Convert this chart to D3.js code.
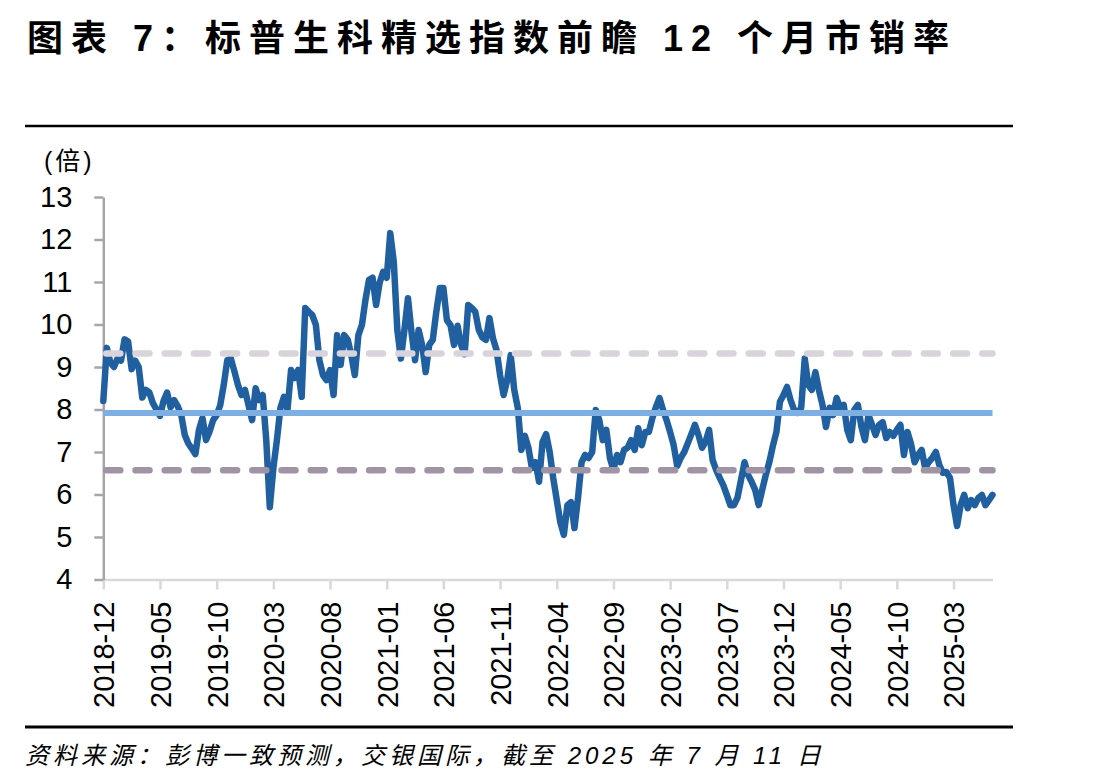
<!DOCTYPE html>
<html>
<head>
<meta charset="utf-8">
<script src="https://cdn.jsdelivr.net/npm/d3@7"></script>
<style>
  html, body { margin: 0; padding: 0; background: #ffffff; }
  svg { display: block; }
</style>
</head>
<body>
<svg id="chart" width="1097" height="780"></svg>
<script>
// ---- data ----
const titleText = "图表 7：标普生科精选指数前瞻 12 个月市销率";
const unitLabel = "(倍)";
const sourceText = "资料来源：彭博一致预测，交银国际，截至 2025 年 7 月 11 日";

const tickLabels = ["2018-12","2019-05","2019-10","2020-03","2020-08","2021-01","2021-06","2021-11",
                    "2022-04","2022-09","2023-02","2023-07","2023-12","2024-05","2024-10","2025-03"];
const pointsPerTick = 16;
const yTicks = [4,5,6,7,8,9,10,11,12,13];

// forward 12M P/S (x), sampled evenly along the category axis
const psRatio = [
  8.2, 9.45, 9.1, 9.0, 9.2, 9.15, 9.65, 9.6, 8.95, 9.15, 9.0, 8.28, 8.46, 8.4, 8.15, 8.0,
  7.85, 8.2, 8.4, 8.05, 8.22, 8.08, 7.87, 7.4, 7.2, 7.08, 6.95, 7.52, 7.8, 7.28, 7.48, 7.75,
  7.87, 8.1, 8.58, 9.16, 9.2, 8.9, 8.58, 8.34, 8.46, 8.1, 7.75, 8.5, 8.22, 8.34, 7.28, 5.7,
  6.62, 7.28, 8.04, 8.3, 8.0, 8.93, 8.74, 8.93, 8.3, 10.39, 10.3, 10.22, 9.99, 9.16, 8.81, 8.69,
  8.93, 8.34, 9.75, 9.05, 9.75, 9.64, 9.28, 8.81, 9.75, 9.99, 10.58, 11.05, 11.1, 10.46, 10.98, 11.24,
  11.1, 12.15, 11.47, 9.87, 9.2, 9.87, 10.62, 9.82, 9.16, 9.87, 9.52, 8.88, 9.52, 9.64, 10.3, 10.86,
  10.86, 10.1, 9.99, 9.52, 9.97, 9.52, 9.3, 10.46, 10.39, 10.3, 9.87, 9.7, 9.64, 10.15, 9.67, 9.4,
  8.81, 8.34, 8.69, 9.28, 8.46, 8.04, 7.05, 7.38, 7.1, 6.62, 6.76, 6.3, 7.24, 7.42, 7.0, 6.39,
  5.87, 5.35, 5.05, 5.75, 5.82, 5.21, 5.92, 6.76, 6.93, 6.86, 7.0, 7.99, 7.75, 7.28, 7.52, 6.86,
  6.58, 6.93, 6.76, 7.05, 7.1, 7.28, 7.05, 7.56, 7.16, 7.47, 7.47, 7.8, 8.06, 8.27, 7.99, 7.75,
  7.47, 7.16, 6.67, 6.86, 7.0, 7.21, 7.42, 7.64, 7.4, 7.1, 7.24, 7.52, 6.81, 6.58, 6.39, 6.22,
  5.99, 5.75, 5.75, 5.92, 6.34, 6.76, 6.46, 6.3, 6.11, 5.75, 6.11, 6.46, 6.76, 7.14, 7.47, 8.18,
  8.34, 8.53, 8.22, 7.99, 7.92, 8.04, 9.2, 8.58, 8.46, 8.88, 8.46, 8.11, 7.59, 8.04, 7.87, 8.27,
  8.04, 8.11, 7.52, 7.28, 7.99, 8.11, 7.59, 7.28, 7.87, 7.64, 7.4, 7.64, 7.7, 7.33, 7.47, 7.38,
  7.52, 7.64, 6.93, 7.47, 7.19, 6.76, 6.93, 7.05, 6.62, 6.76, 6.86, 7.0, 6.69, 6.51, 6.53, 6.39,
  5.75, 5.26, 5.75, 5.99, 5.68, 5.87, 5.75, 5.92, 5.99, 5.75, 5.87, 5.99
];

const meanLevel = 7.92;
const upperLevel = 9.32;   // mean + 1 s.d.
const lowerLevel = 6.57;   // mean - 1 s.d.

// ---- drawing ----
const svg = d3.select("#chart");
svg.append("rect").attr("width", 1097).attr("height", 780).attr("fill", "#ffffff");

const plot = { left: 103.3, right: 992.5, top: 197, bottom: 579.5 };
const x = d3.scaleLinear().domain([0, psRatio.length - 1]).range([plot.left, plot.right]);
const y = d3.scaleLinear().domain([4, 13]).range([plot.bottom, plot.top]);

const numFont = "'Liberation Sans', Arial, sans-serif";
const cjkFont = "'Liberation Sans', 'Noto Sans CJK SC', sans-serif";

// title
svg.append("text")
  .attr("x", 27).attr("y", 51)
  .attr("font-family", cjkFont)
  .attr("font-weight", "bold")
  .attr("font-size", 36)
  .attr("letter-spacing", 8)
  .attr("fill", "#000")
  .text(titleText);

// rules
svg.append("line").attr("x1", 25).attr("x2", 1013).attr("y1", 126).attr("y2", 126)
  .attr("stroke", "#000").attr("stroke-width", 2.5);
svg.append("line").attr("x1", 25).attr("x2", 1013).attr("y1", 727).attr("y2", 727)
  .attr("stroke", "#000").attr("stroke-width", 3);

// unit label
svg.append("text")
  .attr("x", 44).attr("y", 170)
  .attr("font-family", cjkFont)
  .attr("font-size", 25)
  .attr("letter-spacing", 3)
  .attr("fill", "#000")
  .text(unitLabel);

// x axis
const tickIdx = tickLabels.map((_, k) => k * pointsPerTick);
const xAxis = d3.axisBottom(x)
  .tickValues(tickIdx)
  .tickFormat(i => tickLabels[i / pointsPerTick])
  .tickSize(10)
  .tickSizeOuter(0);
const gx = svg.append("g").attr("transform", `translate(0,${plot.bottom})`).call(xAxis);
gx.select(".domain").attr("stroke", "#D9D9D9").attr("stroke-width", 2.5);
gx.selectAll(".tick line").attr("stroke", "#D9D9D9").attr("stroke-width", 2.5);
gx.selectAll(".tick text")
  .attr("font-family", numFont)
  .attr("font-size", 29)
  .attr("fill", "#000")
  .attr("text-anchor", "end")
  .attr("transform", "rotate(-90)")
  .attr("x", -22)
  .attr("y", 0)
  .attr("dy", "0.36em");

// y axis
const yAxis = d3.axisLeft(y)
  .tickValues(yTicks)
  .tickFormat(d3.format("d"))
  .tickSize(9)
  .tickPadding(22)
  .tickSizeOuter(0);
const gy = svg.append("g").attr("transform", `translate(${plot.left},0)`).call(yAxis);
gy.select(".domain").attr("stroke", "#A6A6A6").attr("stroke-width", 2.5);
gy.selectAll(".tick line").attr("stroke", "#A6A6A6").attr("stroke-width", 2.5);
gy.selectAll(".tick text")
  .attr("font-family", numFont)
  .attr("font-size", 29)
  .attr("fill", "#000");

// data line
const line = d3.line().x((d, i) => x(i)).y(d => y(d));
svg.append("path")
  .datum(psRatio)
  .attr("d", line)
  .attr("fill", "none")
  .attr("stroke", "#2060A0")
  .attr("stroke-width", 6.5)
  .attr("stroke-linejoin", "round")
  .attr("stroke-linecap", "round");

// reference lines
const x0 = x(0), x1 = x(psRatio.length - 1);
svg.append("line")
  .attr("x1", x0 + 3).attr("x2", x1).attr("y1", y(upperLevel)).attr("y2", y(upperLevel))
  .attr("stroke", "#D9D4DB").attr("stroke-width", 6.5)
  .attr("stroke-linecap", "round").attr("stroke-dasharray", "14,15.2");
svg.append("line")
  .attr("x1", x0).attr("x2", x1).attr("y1", y(meanLevel)).attr("y2", y(meanLevel))
  .attr("stroke", "#7EAFE3").attr("stroke-width", 6);
svg.append("line")
  .attr("x1", x0 + 3).attr("x2", x1).attr("y1", y(lowerLevel)).attr("y2", y(lowerLevel))
  .attr("stroke", "#A093A3").attr("stroke-width", 6.5)
  .attr("stroke-linecap", "round").attr("stroke-dasharray", "14,15.2");

// source
svg.append("text")
  .attr("x", 25).attr("y", 764)
  .attr("font-family", cjkFont)
  .attr("font-style", "italic")
  .attr("font-size", 24)
  .attr("letter-spacing", 4)
  .attr("fill", "#000")
  .text(sourceText);
</script>
</body>
</html>
